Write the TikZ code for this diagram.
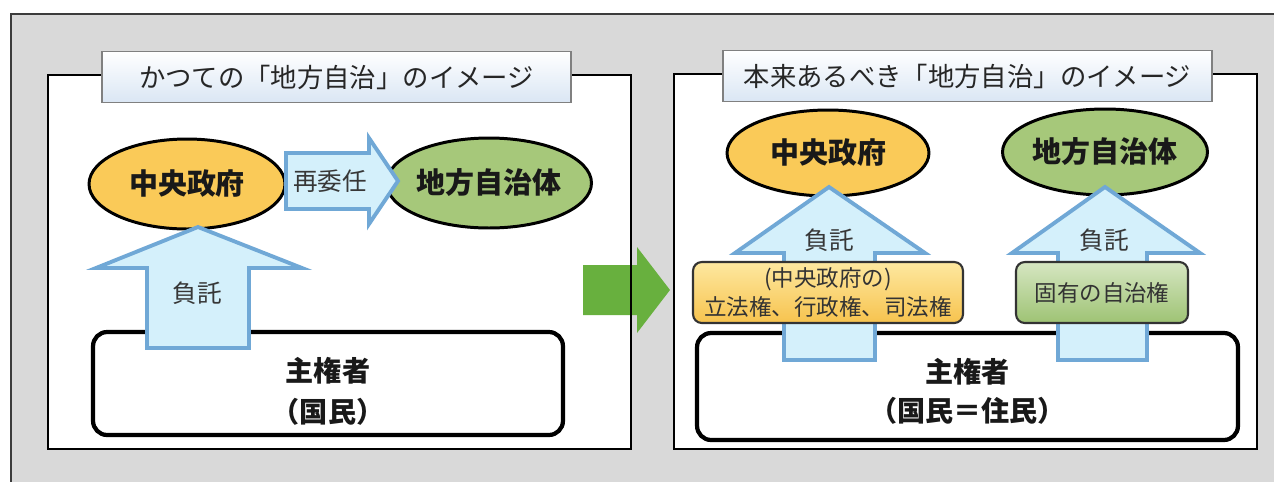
\documentclass[tikz,border=0pt]{standalone}
\usepackage{fontspec}
\setmainfont{Noto Sans CJK JP}
\usetikzlibrary{shapes.geometric}
\definecolor{bggray}{RGB}{217,217,217}
\definecolor{framegray}{RGB}{60,60,60}
\definecolor{titleline}{RGB}{128,128,128}
\definecolor{titlebot}{RGB}{218,230,244}
\definecolor{orangeE}{RGB}{250,202,88}
\definecolor{greenE}{RGB}{166,200,122}
\definecolor{arrowfill}{RGB}{212,240,251}
\definecolor{arrowline}{RGB}{112,168,214}
\definecolor{bigarrow}{RGB}{104,176,62}
\definecolor{obtop}{RGB}{253,232,160}
\definecolor{obbot}{RGB}{247,195,78}
\definecolor{gbtop}{RGB}{214,230,194}
\definecolor{gbbot}{RGB}{158,195,116}
\definecolor{labelgray}{RGB}{55,55,55}
\tikzset{
  panelline/.style={draw=black, line width=1.4pt},
  titlebox/.style={draw=titleline, line width=1pt, top color=white, bottom color=titlebot,
    minimum height=1.02cm, inner sep=0pt, font=\fontsize{15}{18}\selectfont, text=black!85},
  ell/.style={ellipse, draw=black, line width=1.7pt, inner sep=0pt,
    font=\bfseries\fontsize{16.5}{20}\selectfont, text=black!90},
  sovbox/.style={draw=black, line width=2.4pt, rounded corners=8pt, fill=white, inner sep=0pt},
  sovtext/.style={font=\bfseries\fontsize{16}{23}\selectfont, align=center, text=black!90},
  barrow/.style={fill=arrowfill, draw=arrowline, line width=2.2pt, line join=miter},
  blabel/.style={font=\fontsize{14}{17}\selectfont, text=labelgray},
  smallbox/.style={draw=black!80, line width=1.2pt, rounded corners=5pt, inner sep=0pt,
    minimum height=1.22cm, align=center, font=\fontsize{12.8}{16}\selectfont, text=black!80}
}
\begin{document}
\begin{tikzpicture}[x=0.02cm,y=-0.02cm]
\useasboundingbox (0,0) rectangle (1274,481);
\clip (0,0) rectangle (1274,481);
\fill[white] (0,0) rectangle (1274,481);
\draw[draw=framegray, line width=1.2pt, fill=bggray] (11,14) rectangle (1300,510);

% panels
\fill[white] (48,75) rectangle (631,449);
\fill[white] (674,74) rectangle (1257,449);

% big green arrow
\fill[bigarrow] (583,265) -- (637,265) -- (637,247) -- (670,290) -- (637,333) -- (637,315) -- (583,315) -- cycle;

\draw[panelline] (48,75) rectangle (631,449);
\draw[panelline] (674,74) rectangle (1257,449);

% titles
\node[titlebox, minimum width=9.38cm] (t1) at (336.5,77) {かつての「地方自治」のイメージ};
\node[titlebox, minimum width=9.78cm] (t2) at (967.5,76) {本来あるべき「地方自治」のイメージ};

% ----- left panel -----
\node[ell, fill=orangeE, minimum width=3.92cm, minimum height=1.8cm] (cg1) at (187,184) {中央政府};
\node[ell, fill=greenE, minimum width=3.96cm, minimum height=1.8cm] (lg1) at (489,183) {地方自治体};
\node[sovbox, minimum width=9.4cm, minimum height=2.06cm] (s1) at (328,383.5) {};
\node[sovtext] (s1t) at (s1.center) [yshift=-0.16cm] {主権者\\（国民）};

\draw[barrow] (286,153) -- (369,153) -- (369,138) -- (398,181) -- (369,224) -- (369,209) -- (286,209) -- cycle;
\node[blabel] (re) at (330,181) {再委任};

\draw[barrow] (147,348) -- (147,268) -- (96,268) -- (198,227) -- (302,268) -- (249,268) -- (249,348) -- cycle;
\node[blabel] (f1) at (197,293) {負託};

% ----- right panel -----
\node[ell, fill=orangeE, minimum width=4.04cm, minimum height=1.72cm] (cg2) at (828,153) {中央政府};
\node[ell, fill=greenE, minimum width=4.04cm, minimum height=1.72cm] (lg2) at (1105,152) {地方自治体};
\node[sovbox, minimum width=10.82cm, minimum height=2.14cm] (s2) at (967.5,386.5) {};
\node[sovtext, font=\bfseries\fontsize{16}{22}\selectfont] (s2t) at (s2.center) [yshift=-0.1cm] {主権者\\（国民＝住民）};

\draw[barrow] (784,360) -- (784,253) -- (735,253) -- (829,187) -- (925,253) -- (875,253) -- (875,360) -- cycle;
\draw[barrow] (1058,360) -- (1058,253) -- (1012,253) -- (1105,187) -- (1200,253) -- (1147,253) -- (1147,360) -- cycle;
\node[blabel] (f2) at (829,240) {負託};
\node[blabel] (f3) at (1104,240) {負託};

\node[smallbox, top color=obtop, bottom color=obbot, minimum width=5.4cm] (ob) at (828,292.5) {(中央政府の)\\立法権、行政権、司法権};
\node[smallbox, top color=gbtop, bottom color=gbbot, minimum width=3.44cm] (gb) at (1102,292.5) {固有の自治権};
\end{tikzpicture}
\end{document}
